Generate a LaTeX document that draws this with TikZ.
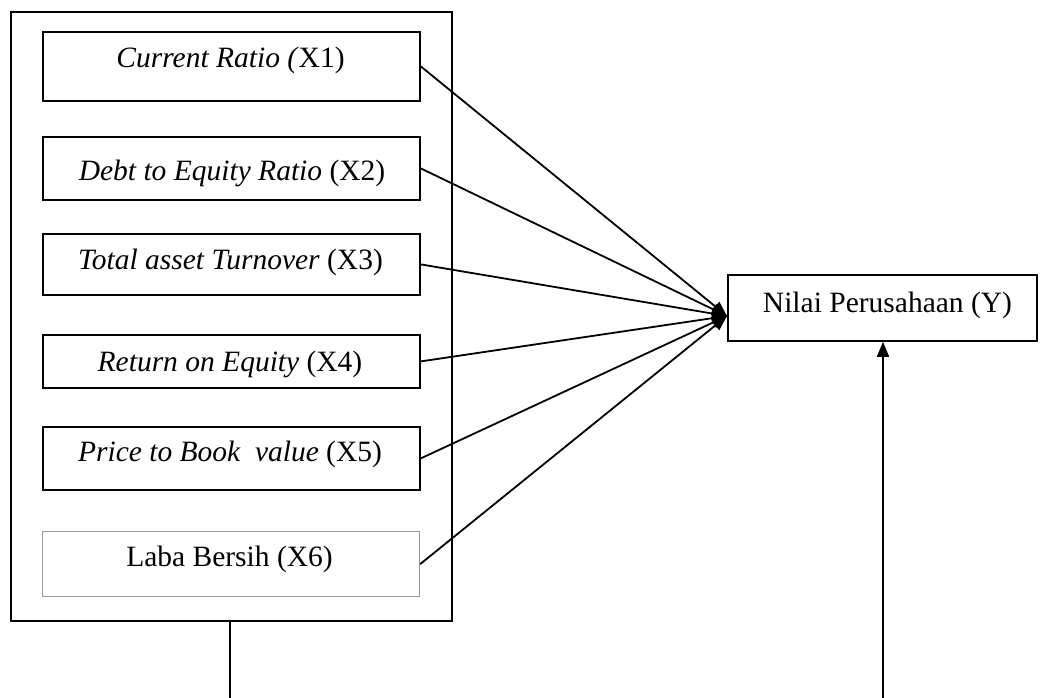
\documentclass[tikz,border=0pt]{standalone}
\usepackage{fontspec}
\setmainfont{Liberation Serif}
\usetikzlibrary{arrows.meta}
\begin{document}
\begin{tikzpicture}[x=1pt,y=-1pt,
  box/.style={draw=black,line width=1.8pt,rectangle,inner sep=0pt,anchor=north west},
  graybox/.style={box,draw=black!40,line width=1.2pt},
  lbl/.style={anchor=base,inner sep=0pt,font=\fontsize{29.5}{35}\selectfont},
  conn/.style={line width=1.8pt,-{Triangle[length=15pt,width=12pt]}},
  plain/.style={line width=1.8pt}]
\useasboundingbox (0,0) rectangle (1042,698);
% outer group box
\node[box,minimum width=441pt,minimum height=609pt] (grp) at (10,11) {};
% inner boxes
\node[box,minimum width=377pt,minimum height=69pt] (b1) at (42,31) {};
\node[box,minimum width=377pt,minimum height=63pt] (b2) at (42,136) {};
\node[box,minimum width=377pt,minimum height=61pt] (b3) at (42,233) {};
\node[box,minimum width=377pt,minimum height=53pt] (b4) at (42,334) {};
\node[box,minimum width=377pt,minimum height=63pt] (b5) at (42,426) {};
\node[graybox,minimum width=377pt,minimum height=65pt] (b6) at (42,531) {};
\node[box,minimum width=309pt,minimum height=66pt] (y) at (727,274) {};
% labels
\node[lbl] (t1) at (230.5,68) {\textit{Current Ratio (}X1)};
\node[lbl] (t2) at (232,180.5) {\textit{Debt to Equity Ratio} (X2)};
\node[lbl] (t3) at (230.5,269) {\textit{Total asset Turnover} (X3)};
\node[lbl] (t4) at (230,371.5) {\textit{Return on Equity} (X4)};
\node[lbl] (t5) at (230,461.5) {\textit{Price to Book\ \ value} (X5)};
\node[lbl] (t6) at (229.5,566) {Laba Bersih (X6)};
\node[lbl] (ty) at (887.5,312.5) {Nilai Perusahaan (Y)};
% connectors
\coordinate (hub) at (727,316);
\draw[conn] (b1.east) -- (hub);
\draw[conn] (b2.east) -- (hub);
\draw[conn] (b3.east) -- (hub);
\draw[conn] (b4.east) -- (hub);
\draw[conn] (b5.east) -- (hub);
\draw[conn] (b6.east) -- (hub);
\coordinate (gbot) at (230,698);
\draw[plain] (grp.south -| gbot) -- (gbot);
\coordinate (ybot) at (883,698);
\draw[conn] (ybot) -- (ybot |- y.south);
\end{tikzpicture}
\end{document}
